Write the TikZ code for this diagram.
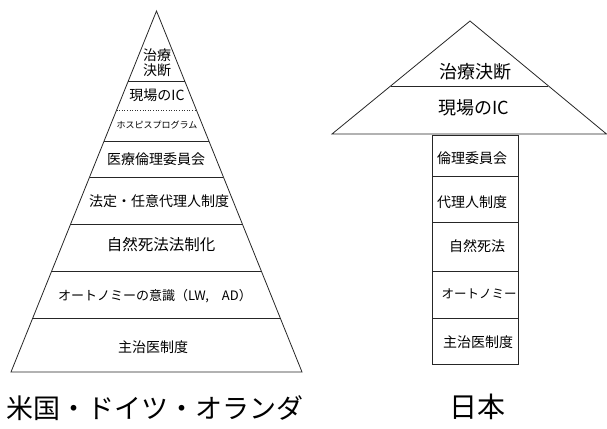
\documentclass[tikz,border=0pt]{standalone}
\usepackage{fontspec}
\setmainfont{Noto Sans CJK JP}
\usetikzlibrary{calc}
\begin{document}
\begin{tikzpicture}[x=1pt,y=-1pt,
  edge/.style={draw=black!85,line width=0.8pt},
  lbl/.style={inner sep=0pt,font=\fontsize{14}{16}\selectfont},
  sml/.style={inner sep=0pt,font=\fontsize{9}{10}\selectfont},
  big/.style={inner sep=0pt,font=\fontsize{18}{20}\selectfont},
  ttl/.style={inner sep=0pt,font=\fontsize{27}{30}\selectfont}]
\useasboundingbox (0,0) rectangle (607,428);
% left pyramid
\coordinate (LA) at (156.5,11);
\coordinate (LL) at (11,372);
\coordinate (LR) at (302,372);
\draw[edge,line join=miter] (LL) -- (LA) -- (LR) -- cycle;
\foreach \t/\n in {0.1939/1,0.3601/3,0.4598/4,0.5900/5,0.7202/6,0.8504/7}{
  \draw[edge] ($(LA)!\t!(LL)$) -- ($(LA)!\t!(LR)$);
}
\draw[black!80,line width=0.6pt,dotted] ($(LA)!0.2742!(LL)$) -- ($(LA)!0.2742!(LR)$);
\node[lbl,align=center] (l1) at (157,63) {治療\\[-1pt]決断};
\node[lbl] (l2) at (157,95) {現場のIC};
\node[sml] (l3) at (157,125) {ホスピスプログラム};
\node[lbl] (l4) at (156,159) {医療倫理委員会};
\node[lbl] (l5) at (159,201) {法定・任意代理人制度};
\node[inner sep=0pt,font=\fontsize{15.5}{17}\selectfont] (l6) at (161,245) {自然死法法制化};
\node[inner sep=0pt,font=\fontsize{13}{15}\selectfont] (l7) at (155,296) {オートノミーの意識（LW,　AD）};
\node[lbl] (l8) at (153,347) {主治医制度};
\node[ttl] (lt) at (155,408) {米国・ドイツ・オランダ};
% right figure
\coordinate (RA) at (470,21);
\coordinate (RL) at (332,134);
\coordinate (RR) at (606.5,134);
\draw[edge,line join=miter] (RL) -- (RA) -- (RR) -- cycle;
\draw[edge] ($(RA)!0.575!(RL)$) -- ($(RA)!0.575!(RR)$);
\node[big] (r1) at (475,72) {治療決断};
\node[big] (r2) at (474,108) {現場のIC};
\draw[edge] (432,135) rectangle (518,364);
\foreach \y in {176,222,271,318}{
  \draw[edge] (432,\y) -- (518,\y);
}
\node[lbl] (r3) at (472,158) {倫理委員会};
\node[lbl] (r4) at (472,202) {代理人制度};
\node[lbl] (r5) at (477,246) {自然死法};
\node[inner sep=0pt,font=\fontsize{12.5}{14}\selectfont] (r6) at (479,294) {オートノミー};
\node[lbl] (r7) at (478,342) {主治医制度};
\node[inner sep=0pt,font=\fontsize{28}{30}\selectfont] (rt) at (477,407) {日本};
\end{tikzpicture}
\end{document}
